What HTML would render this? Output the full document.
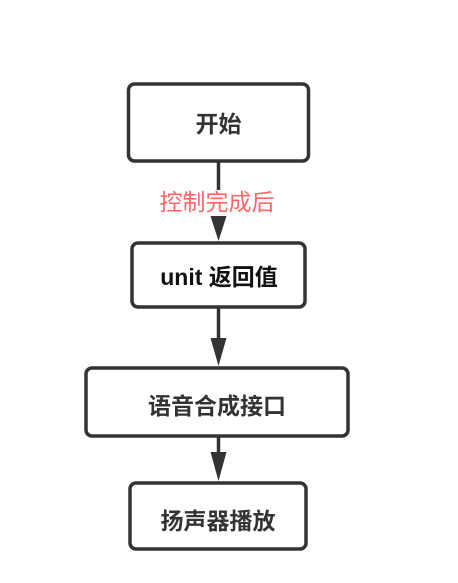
<!DOCTYPE html>
<html><head><meta charset="utf-8"><style>
html,body{margin:0;padding:0;background:#fff;}
svg{display:block;}
text{font-family:"Liberation Sans","Noto Sans CJK SC",sans-serif;}
</style></head><body>
<svg width="458" height="583" viewBox="0 0 458 583" xmlns="http://www.w3.org/2000/svg">
<g fill="#fff" stroke="#333" stroke-width="3.5">
<rect x="128.5" y="84" width="180" height="77" rx="6"/>
<rect x="132" y="243" width="173" height="64" rx="6"/>
<rect x="86" y="368" width="262" height="68" rx="6"/>
<rect x="130" y="483" width="176" height="66" rx="6"/>
</g>
<g stroke="#333" stroke-width="3.5">
<line x1="218.5" y1="161" x2="218.5" y2="190"/>
<line x1="218.5" y1="307" x2="218.5" y2="340"/>
<line x1="218.5" y1="436" x2="218.5" y2="455"/>
</g>
<g fill="#333">
<polygon points="210.5,216 226.5,216 218.5,241"/>
<polygon points="210.5,338 226.5,338 218.5,366"/>
<polygon points="210.5,452 226.5,452 218.5,481"/>
</g>
<g font-size="23" font-weight="bold" fill="#333" text-anchor="middle">
<text x="218.5" y="132">开始</text>
<text x="219" y="285" fill="#111">unit 返回值</text>
<text x="217" y="414">语音合成接口</text>
<text x="218" y="529">扬声器播放</text>
</g>
<text x="217" y="210" font-size="23" fill="#ff6666" text-anchor="middle">控制完成后</text>
</svg>
</body></html>
